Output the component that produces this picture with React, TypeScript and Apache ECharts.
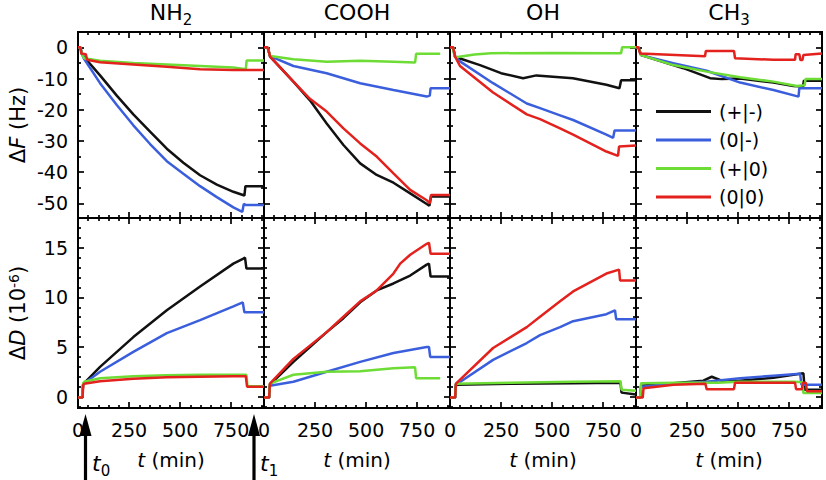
import React, { useEffect, useRef } from "react";
import * as echarts from "echarts";

// ---------- data ----------
const panelNames = ["NH", "COOH", "OH", "CH"];
const panelSubs = ["2", "", "", "3"];
const seriesNames = ["(+|-)", "(0|-)", "(+|0)", "(0|0)"];
const seriesColors = ["#111111", "#3b5fdc", "#6ddc35", "#e3221e"];

const xMajorTicks = [0, 250, 500, 750];
const xMinorTicks = [50, 100, 150, 200, 300, 350, 400, 450, 550, 600, 650, 700, 800, 850, 900];
const fMajorTicks = [0, -10, -20, -30, -40, -50];
const fMinorTicks = [-5, -15, -25, -35, -45];
const dMajorTicks = [0, 5, 10, 15];
const dMinorTicks = [-1, 1, 2, 3, 4, 6, 7, 8, 9, 11, 12, 13, 14, 16, 17];

// ΔF (Hz)
const nh2F_pm = [[0,0],[12,0],[18,-2],[28,-3],[108,-9],[190,-15.5],[271,-21.5],[353,-27],[435,-32.5],[516,-37],[598,-41],[680,-44],[761,-46.3],[815,-47.5],[820,-44.5],[911,-44.5]];
const nh2F_0m = [[0,0],[12,0],[18,-2],[28,-3.5],[108,-11.5],[190,-18.5],[271,-25],[353,-31],[435,-36.5],[516,-40.5],[598,-44.5],[680,-48],[761,-51.3],[805,-52.7],[812,-50.2],[820,-50.5],[911,-50.5]];
const nh2F_p0 = [[0,0],[12,0],[18,-2],[30,-3.5],[108,-4.3],[271,-5],[435,-5.5],[598,-6],[761,-6.5],[822,-7],[826,-4.2],[911,-4.2]];
const nh2F_00 = [[0,0],[12,0],[16,-2],[38,-2.2],[45,-4],[108,-4.8],[271,-5.5],[435,-6.2],[598,-7],[761,-7.3],[911,-7.3]];

const coohF_pm = [[0,0],[15,0],[20,-0.5],[30,-3],[144,-11],[225,-17],[307,-24.4],[389,-31.3],[471,-37.2],[552,-40.9],[634,-43.4],[716,-46.8],[797,-50.2],[810,-50.8],[818,-47.8],[911,-47.8]];
const coohF_0m = [[0,0],[15,0],[20,-0.5],[30,-2.8],[144,-6],[307,-8.3],[471,-11.5],[634,-13.7],[797,-15.8],[812,-15.5],[816,-13.1],[911,-13.1]];
const coohF_p0 = [[0,0],[15,0],[20,-0.5],[30,-2.8],[144,-3.8],[307,-4.6],[471,-4.3],[634,-4.6],[740,-4.9],[745,-2.1],[863,-2.1]];
const coohF_00 = [[0,0],[15,0],[20,-0.5],[30,-3],[144,-11],[225,-16.5],[307,-20.6],[389,-26],[471,-30.8],[552,-35],[634,-40.4],[716,-45.7],[797,-49],[812,-50],[818,-47.3],[911,-47.3]];

const ohF_pm = [[0,0],[15,0],[25,-3],[49,-3.6],[147,-5.7],[250,-8.3],[358,-9.9],[423,-9],[602,-9.9],[766,-12],[830,-13.1],[838,-10.6],[911,-10.6]];
const ohF_0m = [[0,0],[15,0],[25,-3],[49,-4.5],[211,-11.5],[376,-18],[441,-19.5],[539,-21.8],[603,-23.3],[766,-28],[799,-29],[806,-26.7],[911,-26.7]];
const ohF_p0 = [[0,0],[15,0],[22,-3],[30,-3.2],[120,-2.3],[200,-1.9],[500,-1.8],[838,-1.9],[843,0],[911,0]];
const ohF_00 = [[0,0],[15,0],[25,-3],[49,-6],[211,-14.5],[376,-21.5],[441,-23],[539,-26],[603,-28],[766,-33.4],[823,-34.8],[828,-31.8],[911,-31.5]];

const ch3F_pm = [[0,0],[12,0],[25,-2.5],[232,-6.7],[363,-9.9],[420,-10.2],[510,-10],[673,-11.3],[771,-12.4],[818,-12.6],[822,-10.7],[911,-10.7]];
const ch3F_0m = [[0,0],[12,0],[25,-2.5],[183,-5.1],[346,-7.5],[510,-11.3],[673,-13.7],[796,-15.8],[800,-13.1],[911,-13.1]];
const ch3F_p0 = [[0,0],[12,0],[25,-2.5],[183,-5.7],[346,-7.8],[510,-9.6],[673,-11],[788,-12.4],[826,-12.2],[830,-10.2],[911,-10.2]];
const ch3F_00 = [[0,0],[12,0],[20,-2],[338,-2.9],[342,-1.2],[480,-1.2],[485,-3.5],[673,-4],[779,-4],[782,-2.2],[800,-2.2],[805,-4.1],[815,-4.1],[820,-2.5],[911,-2]];

// ΔD (10^-6)
const nh2D_pm = [[0,-0.1],[20,-0.1],[25,1.2],[28,1.3],[108,3.0],[271,6.0],[435,8.7],[598,11.1],[761,13.4],[810,13.9],[818,14.0],[825,12.9],[911,12.9]];
const nh2D_0m = [[0,-0.1],[20,-0.1],[25,1.2],[28,1.3],[108,2.5],[271,4.5],[435,6.4],[598,7.7],[761,9.1],[807,9.5],[815,8.5],[911,8.5]];
const nh2D_p0 = [[0,-0.1],[20,-0.1],[25,1.3],[30,1.5],[108,1.85],[271,2.05],[435,2.15],[598,2.2],[761,2.2],[825,2.2],[830,1.05],[911,1.05]];
const nh2D_00 = [[0,-0.1],[22,-0.1],[26,1.2],[30,1.3],[108,1.55],[271,1.8],[435,1.95],[598,2.0],[761,2.05],[822,2.05],[828,1.0],[911,1.0]];

const coohD_pm = [[0,-0.1],[25,-0.1],[29,1.2],[144,3.5],[307,6.5],[389,7.9],[471,9.5],[552,10.7],[634,11.4],[716,12.2],[797,13.3],[808,13.4],[816,12.1],[911,12.1]];
const coohD_0m = [[0,-0.1],[25,-0.1],[29,1.1],[144,1.5],[307,2.5],[471,3.5],[634,4.4],[797,5.0],[808,5.0],[814,4.0],[911,4.0]];
const coohD_p0 = [[0,-0.1],[25,-0.1],[29,1.3],[144,2.2],[307,2.5],[471,2.55],[634,2.85],[740,2.95],[745,1.85],[863,1.85]];
const coohD_00 = [[0,-0.1],[25,-0.1],[29,1.3],[144,3.8],[307,6.5],[389,8.05],[471,9.6],[552,10.7],[634,12.4],[667,13.4],[716,14.3],[797,15.4],[808,15.5],[816,14.4],[911,14.4]];

const ohD_pm = [[0,-0.1],[25,-0.1],[29,1.2],[300,1.3],[600,1.35],[835,1.4],[840,0.4],[911,0.2]];
const ohD_0m = [[0,-0.1],[25,-0.1],[29,1.2],[211,3.7],[376,5.4],[441,6.2],[539,7.0],[603,7.6],[766,8.3],[808,8.7],[814,7.8],[911,7.8]];
const ohD_p0 = [[0,-0.1],[25,-0.1],[29,1.3],[300,1.4],[600,1.5],[835,1.55],[840,0.7],[911,0.6]];
const ohD_00 = [[0,-0.1],[25,-0.1],[29,1.3],[211,4.9],[376,7.0],[441,8.05],[539,9.6],[603,10.6],[766,12.4],[828,12.8],[833,11.7],[911,11.7]];

const ch3D_pm = [[0,-0.1],[20,-0.1],[25,1.1],[183,1.35],[330,1.6],[371,2.0],[420,1.6],[480,1.55],[673,1.9],[820,2.35],[826,0.7],[911,0.7]];
const ch3D_0m = [[0,-0.1],[20,-0.1],[25,1.0],[183,1.3],[346,1.5],[510,1.85],[673,2.1],[804,2.3],[810,1.2],[911,1.2]];
const ch3D_p0 = [[0,-0.1],[20,-0.1],[25,1.35],[200,1.4],[400,1.4],[500,1.5],[780,1.5],[815,1.45],[820,0.35],[911,0.35]];
const ch3D_00 = [[0,-0.1],[33,-0.1],[37,0.85],[183,1.2],[340,1.3],[346,0.75],[480,0.75],[485,1.4],[779,1.4],[784,0.75],[812,0.75],[818,1.4],[832,1.4],[837,0.55],[911,0.55]];

const fData = [
  [nh2F_pm, nh2F_0m, nh2F_p0, nh2F_00],
  [coohF_pm, coohF_0m, coohF_p0, coohF_00],
  [ohF_pm, ohF_0m, ohF_p0, ohF_00],
  [ch3F_pm, ch3F_0m, ch3F_p0, ch3F_00],
];
const dData = [
  [nh2D_pm, nh2D_0m, nh2D_p0, nh2D_00],
  [coohD_pm, coohD_0m, coohD_p0, coohD_00],
  [ohD_pm, ohD_0m, ohD_p0, ohD_00],
  [ch3D_pm, ch3D_0m, ch3D_p0, ch3D_00],
];

// ---------- layout ----------
const FONT = "DejaVu Sans";
const X_MIN = 0, X_MAX = 911;
const F_MIN = -54.7, F_MAX = 4.9;
const D_MIN = -1.15, D_MAX = 18;
const PANEL_LEFT = 78, PANEL_W = 186;
const TOP_Y = 32, TOP_H = 186, BOT_Y = 218, BOT_H = 190;

function axis(dim: "x" | "y", g: number, position: string, min: number, max: number,
  ticks: number[], len: number, showLabels: boolean, name?: string, extra?: any) {
  const a: any = {
    gridIndex: g, type: "value", min, max, position,
    axisLine: { show: true, onZero: false, lineStyle: { color: "#000", width: 2 } },
    axisTick: { show: true, inside: true, length: len, customValues: ticks, lineStyle: { color: "#000", width: 1.7 } },
    minorTick: { show: false },
    splitLine: { show: false },
    axisLabel: showLabels
      ? { show: true, customValues: ticks, fontSize: 19, fontFamily: FONT, color: "#000", margin: dim === "x" ? 12 : 10 }
      : { show: false },
  };
  if (name) Object.assign(a, { name }, extra);
  return a;
}

function buildOption() {
  const grid: any[] = [], xAxis: any[] = [], yAxis: any[] = [], series: any[] = [];
  for (let row = 0; row < 2; row++) {
    for (let col = 0; col < 4; col++) {
      const g = row * 4 + col;
      grid.push({
        left: PANEL_LEFT + PANEL_W * col, width: PANEL_W,
        top: row === 0 ? TOP_Y : BOT_Y, height: row === 0 ? TOP_H : BOT_H,
        containLabel: false, outerBoundsMode: "none",
      });
      const xName = row === 1 ? "{i|t}{n| (min)}" : undefined;
      const xNameExtra = {
        nameLocation: "middle", nameGap: 42,
        nameTextStyle: { fontSize: 20, fontFamily: FONT, color: "#000",
          rich: { i: { fontStyle: "italic", fontSize: 20, fontFamily: FONT }, n: { fontSize: 20, fontFamily: FONT } } },
      };
      xAxis.push(axis("x", g, "bottom", X_MIN, X_MAX, xMajorTicks, 6, row === 1, xName, xNameExtra));
      xAxis.push(axis("x", g, "bottom", X_MIN, X_MAX, xMinorTicks, 3, false));
      xAxis.push(axis("x", g, "top", X_MIN, X_MAX, xMajorTicks, 6, false));
      xAxis.push(axis("x", g, "top", X_MIN, X_MAX, xMinorTicks, 3, false));

      const yMin = row === 0 ? F_MIN : D_MIN;
      const yMax = row === 0 ? F_MAX : D_MAX;
      const major = row === 0 ? fMajorTicks : dMajorTicks;
      const minor = row === 0 ? fMinorTicks : dMinorTicks;
      const yName = col === 0
        ? (row === 0 ? "{a|Δ}{i|F}{a| (Hz)}" : "{a|Δ}{i|D}{a| (10}{s|-6}{a|)}")
        : undefined;
      const yNameExtra = {
        nameLocation: "middle", nameGap: 50, nameRotate: 90,
        nameTextStyle: { fontSize: 21, fontFamily: FONT, color: "#000",
          rich: {
            a: { fontSize: 21, fontFamily: FONT, verticalAlign: "bottom" },
            i: { fontSize: 21, fontFamily: FONT, fontStyle: "italic", verticalAlign: "bottom" },
            s: { fontSize: 14, fontFamily: FONT, verticalAlign: "top" },
          } },
      };
      yAxis.push(axis("y", g, "left", yMin, yMax, major, 6, col === 0, yName, yNameExtra));
      yAxis.push(axis("y", g, "left", yMin, yMax, minor, 3, false));
      yAxis.push(axis("y", g, "right", yMin, yMax, major, 6, false));
      yAxis.push(axis("y", g, "right", yMin, yMax, minor, 3, false));

      const data = row === 0 ? fData[col] : dData[col];
      for (let s = 0; s < 4; s++) {
        series.push({
          type: "line", name: seriesNames[s], xAxisIndex: g * 4, yAxisIndex: g * 4,
          data: data[s], showSymbol: false, symbol: "none", smooth: false,
          lineStyle: { color: seriesColors[s], width: 2.5 },
          itemStyle: { color: seriesColors[s] },
          z: 2 + s,
        });
      }
    }
  }

  const graphic: any[] = [];
  for (let c = 0; c < 4; c++) {
    const text = panelSubs[c] ? `{m|${panelNames[c]}}{s|${panelSubs[c]}}` : `{m|${panelNames[c]}}`;
    graphic.push({
      type: "text", x: PANEL_LEFT + PANEL_W * c + PANEL_W / 2, y: 1,
      style: {
        text, align: "center", textAlign: "center", verticalAlign: "top", textVerticalAlign: "top",
        fill: "#000", fontFamily: FONT, fontSize: 22,
        rich: {
          m: { fontSize: 22, fontFamily: FONT, verticalAlign: "top" },
          s: { fontSize: 15, fontFamily: FONT, verticalAlign: "top", padding: [11, 0, 0, 0] },
        },
      },
    });
  }
  // arrows t0 / t1
  const arrows = [{ cx: 85.5, label: "0", lx: 92 }, { cx: 254, label: "1", lx: 260 }];
  for (const a of arrows) {
    graphic.push({ type: "rect", shape: { x: a.cx - 1.6, y: 432, width: 3.2, height: 50 }, style: { fill: "#000" } });
    graphic.push({ type: "polygon", shape: { points: [[a.cx - 6, 436], [a.cx + 6, 436], [a.cx, 414]] }, style: { fill: "#000" } });
    graphic.push({
      type: "text", x: a.lx, y: 452,
      style: {
        text: `{t|t}{s|${a.label}}`, align: "left", textAlign: "left", verticalAlign: "top", textVerticalAlign: "top",
        fill: "#000", fontFamily: FONT, fontSize: 22,
        rich: {
          t: { fontSize: 22, fontFamily: FONT, fontStyle: "italic", verticalAlign: "top" },
          s: { fontSize: 15, fontFamily: FONT, verticalAlign: "top", padding: [11, 0, 0, 0] },
        },
      },
    });
  }

  return {
    animation: false,
    backgroundColor: "#fff",
    textStyle: { fontFamily: FONT },
    grid, xAxis, yAxis, series, graphic,
    legend: {
      orient: "vertical", left: 651, top: 97, icon: "rect",
      itemWidth: 55, itemHeight: 3, itemGap: 9.5, selectedMode: false,
      data: seriesNames,
      textStyle: { fontSize: 19, fontFamily: FONT, color: "#000", padding: [0, 0, 0, 3] },
    },
  };
}

export default function App() {
  const ref = useRef<HTMLDivElement>(null);
  useEffect(() => {
    if (!ref.current) return;
    const chart = echarts.init(ref.current, null, { renderer: "svg" });
    chart.setOption(buildOption() as any);
    return () => chart.dispose();
  }, []);
  return (
    <div
      ref={ref}
      style={{ position: "fixed", left: 0, top: 0, width: 826, height: 480, background: "#fff" }}
    />
  );
}
